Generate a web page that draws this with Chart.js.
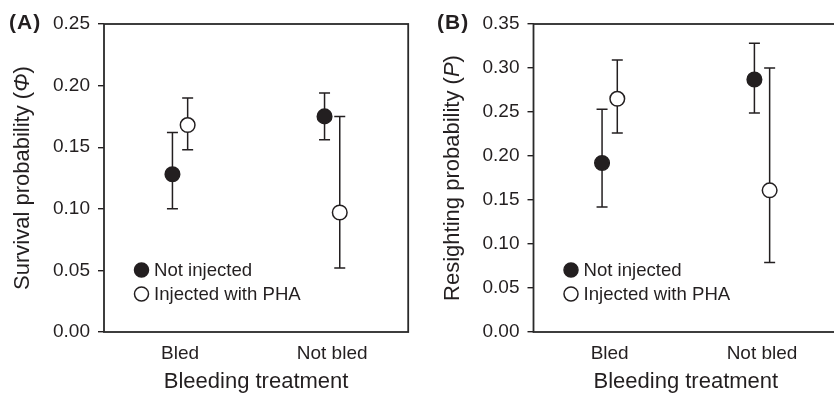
<!DOCTYPE html>
<html><head><meta charset="utf-8">
<script src="https://cdn.jsdelivr.net/npm/chart.js@4.4.1/dist/chart.umd.min.js"></script>
<style>
html,body{margin:0;padding:0;background:#fff;overflow:hidden;width:834px;height:400px}
#wrap{position:relative;width:834px;height:400px;overflow:hidden;background:#fff}
#cA{position:absolute;left:0;top:0}
#cB{position:absolute;left:417px;top:0}
</style></head><body>
<div id="wrap"><canvas id="cA" width="417" height="400"></canvas><canvas id="cB" width="430" height="400"></canvas></div>
<script>
const categories = ['Bled', 'Not bled'];
const seriesNames = ['Not injected', 'Injected with PHA'];
const xTitle = 'Bleeding treatment';

// Panel A: survival probability
const survivalNotInjected      = [0.128, 0.175];
const survivalNotInjectedLower = [0.100, 0.156];
const survivalNotInjectedUpper = [0.162, 0.194];
const survivalInjected         = [0.168, 0.097];
const survivalInjectedLower    = [0.148, 0.052];
const survivalInjectedUpper    = [0.190, 0.175];
const survivalTicks = [0, 0.05, 0.10, 0.15, 0.20, 0.25];

// Panel B: resighting probability
const resightNotInjected      = [0.192, 0.287];
const resightNotInjectedLower = [0.142, 0.249];
const resightNotInjectedUpper = [0.253, 0.328];
const resightInjected         = [0.265, 0.161];
const resightInjectedLower    = [0.226, 0.079];
const resightInjectedUpper    = [0.309, 0.300];
const resightTicks = [0, 0.05, 0.10, 0.15, 0.20, 0.25, 0.30, 0.35];

const INK = '#231f20';
const FAM = "'Liberation Sans', Arial, Helvetica, sans-serif";
Chart.defaults.font.family = FAM;
Chart.defaults.color = INK;

const OFFSETS = [-0.05, 0.05];
const STYLES = [
  {bg: INK, border: INK},
  {bg: '#ffffff', border: INK}
];

function makeDataset(k, values, lower, upper) {
  return {
    label: seriesNames[k],
    data: values.map((v, i) => ({x: i + 0.5 + OFFSETS[k], y: v, lo: lower[i], hi: upper[i]})),
    backgroundColor: STYLES[k].bg,
    borderColor: STYLES[k].border,
    pointBackgroundColor: STYLES[k].bg,
    pointBorderColor: STYLES[k].border,
    pointRadius: 7.3,
    pointHoverRadius: 7.3,
    pointBorderWidth: 1.5,
    showLine: false
  };
}

const panelPlugin = {
  id: 'panelPlugin',
  beforeDatasetsDraw(chart) {
    const {ctx, chartArea: ca, scales: {x, y}} = chart;
    ctx.save();
    ctx.strokeStyle = INK;
    ctx.lineWidth = 1.5;
    chart.data.datasets.forEach(ds => {
      ds.data.forEach(p => {
        const px = x.getPixelForValue(p.x);
        const pl = y.getPixelForValue(p.lo);
        const ph = y.getPixelForValue(p.hi);
        ctx.beginPath();
        ctx.moveTo(px, ph); ctx.lineTo(px, pl);
        ctx.moveTo(px - 5.5, ph); ctx.lineTo(px + 5.5, ph);
        ctx.moveTo(px - 5.5, pl); ctx.lineTo(px + 5.5, pl);
        ctx.stroke();
      });
    });
    ctx.lineWidth = 1.8;
    ctx.strokeStyle = '#2a2a2a';
    ctx.strokeRect(ca.left, ca.top, ca.right - ca.left, ca.bottom - ca.top);
    ctx.restore();
  },
  afterDraw(chart, args, opts) {
    const {ctx, chartArea: ca} = chart;
    ctx.save();
    chart.data.datasets.forEach((ds, i) => {
      const cx = ca.left + 37.5, cy = ca.bottom - 62 + i * 24;
      ctx.beginPath();
      ctx.arc(cx, cy, 7, 0, Math.PI * 2);
      ctx.fillStyle = ds.pointBackgroundColor;
      ctx.fill();
      ctx.lineWidth = 1.5;
      ctx.strokeStyle = ds.pointBorderColor;
      ctx.stroke();
      ctx.fillStyle = INK;
      ctx.font = '18.6px ' + FAM;
      ctx.textAlign = 'left';
      ctx.textBaseline = 'middle';
      ctx.fillText(ds.label, cx + 12.5, cy + 0.5);
    });
    const parts = opts.yTitle;
    const fonts = parts.map(p => (p.italic ? 'italic ' : '') + '22px ' + FAM);
    let total = 0;
    const widths = parts.map((p, i) => { ctx.font = fonts[i]; const w = ctx.measureText(p.text).width; total += w; return w; });
    ctx.translate(opts.yTitleX, (ca.top + ca.bottom) / 2);
    ctx.rotate(-Math.PI / 2);
    ctx.textBaseline = 'alphabetic';
    ctx.textAlign = 'left';
    let xx = -total / 2;
    parts.forEach((p, i) => { ctx.font = fonts[i]; ctx.fillText(p.text, xx, 0); xx += widths[i]; });
    ctx.setTransform(1, 0, 0, 1, 0, 0);
    ctx.font = 'bold 21px ' + FAM;
    ctx.letterSpacing = '1px';
    ctx.textAlign = 'left';
    ctx.textBaseline = 'alphabetic';
    ctx.fillText(opts.label, opts.labelX, 28.5);
    ctx.restore();
  }
};

function makeChart(id, cfg) {
  return new Chart(document.getElementById(id), {
    type: 'scatter',
    data: {datasets: [
      makeDataset(0, cfg.v0, cfg.lo0, cfg.hi0),
      makeDataset(1, cfg.v1, cfg.lo1, cfg.hi1)
    ]},
    options: {
      responsive: false,
      animation: false,
      devicePixelRatio: 1,
      events: [],
      layout: {padding: {top: 24, right: cfg.padRight, bottom: 0, left: 0}},
      plugins: {
        legend: {display: false},
        tooltip: {enabled: false},
        panelPlugin: {yTitle: cfg.yTitle, yTitleX: cfg.yTitleX, label: cfg.label, labelX: cfg.labelX}
      },
      scales: {
        x: {
          type: 'linear', min: 0, max: categories.length,
          afterBuildTicks: s => { s.ticks = categories.map((c, i) => ({value: i + 0.5})); },
          ticks: {
            callback: (v, i) => categories[i],
            font: {size: 19}, color: INK, padding: 10, maxRotation: 0, autoSkip: false
          },
          grid: {display: false, drawTicks: false},
          border: {display: false},
          title: {display: true, text: xTitle, font: {size: 22}, color: INK, padding: {top: 0, bottom: 5}},
          afterFit: s => { s.height = 68; }
        },
        y: {
          type: 'linear', min: cfg.ticks[0], max: cfg.ticks[cfg.ticks.length - 1],
          afterBuildTicks: s => { s.ticks = cfg.ticks.map(v => ({value: v})); },
          ticks: {callback: v => v.toFixed(2), font: {size: 19}, color: INK, padding: 8},
          grid: {drawOnChartArea: false, drawTicks: true, tickLength: 6, color: INK, lineWidth: 1.4},
          border: {display: false},
          afterFit: s => { s.width = cfg.yWidth; }
        }
      }
    },
    plugins: [panelPlugin]
  });
}

makeChart('cA', {
  v0: survivalNotInjected, lo0: survivalNotInjectedLower, hi0: survivalNotInjectedUpper,
  v1: survivalInjected, lo1: survivalInjectedLower, hi1: survivalInjectedUpper,
  ticks: survivalTicks,
  yTitle: [{text: 'Survival probability ('}, {text: 'Φ', italic: true}, {text: ')'}],
  yTitleX: 29, label: '(A)', labelX: 9, yWidth: 104, padRight: 8
});
makeChart('cB', {
  v0: resightNotInjected, lo0: resightNotInjectedLower, hi0: resightNotInjectedUpper,
  v1: resightInjected, lo1: resightInjectedLower, hi1: resightInjectedUpper,
  ticks: resightTicks,
  yTitle: [{text: 'Resighting probability ('}, {text: 'P', italic: true}, {text: ')'}],
  yTitleX: 42, label: '(B)', labelX: 20, yWidth: 116.5, padRight: 8.5
});
</script>
</body></html>
